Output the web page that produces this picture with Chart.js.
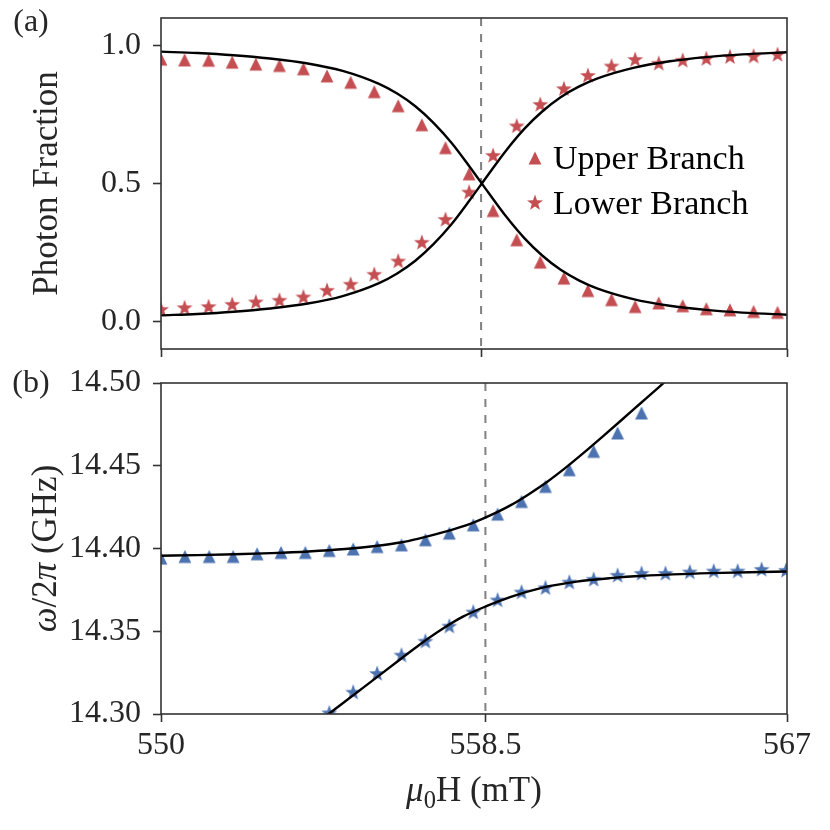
<!DOCTYPE html>
<html>
<head>
<meta charset="utf-8">
<script src="https://cdn.jsdelivr.net/npm/chart.js@4.4.1/dist/chart.umd.min.js"></script>
<style>
  html, body { margin: 0; padding: 0; background: #fff; }
  #wrap { position: relative; width: 830px; height: 830px; }
  #wrap canvas { position: absolute; left: 0; }
  #chart-fraction { top: 0; }
  #chart-frequency { top: 370px; }
</style>
</head>
<body>
<div id="wrap">
  <canvas id="chart-fraction" width="830" height="370"></canvas>
  <canvas id="chart-frequency" width="830" height="460"></canvas>
</div>
<script>
// measured field values (mT), shared by both panels
const fieldValues = [550.00, 550.65, 551.31, 551.96, 552.61, 553.26, 553.92, 554.57, 555.22,
  555.87, 556.53, 557.18, 557.83, 558.48, 559.14, 559.79, 560.44, 561.09, 561.75, 562.40,
  563.05, 563.70, 564.36, 565.01, 565.66, 566.31, 566.97];

// (a) photon fraction
const fractionUpper = [0.951, 0.948, 0.947, 0.940, 0.933, 0.928, 0.916, 0.890, 0.867, 0.833,
  0.782, 0.713, 0.630, 0.535, 0.402, 0.296, 0.215, 0.157, 0.112, 0.079, 0.054, 0.067, 0.057,
  0.046, 0.042, 0.036, 0.033];
const fractionLower = [0.042, 0.048, 0.052, 0.060, 0.069, 0.075, 0.087, 0.111, 0.133, 0.169,
  0.217, 0.285, 0.368, 0.467, 0.600, 0.707, 0.785, 0.842, 0.890, 0.924, 0.948, 0.934, 0.945,
  0.951, 0.958, 0.960, 0.966];
const fractionFitField = [550, 551, 552, 553, 554, 555, 556, 556.5, 557, 557.5, 558, 558.5,
  559, 559.5, 560, 560.5, 561, 561.5, 562, 563, 564, 565, 566, 567.3];
const fractionFitUpper = [0.978, 0.973, 0.965, 0.953, 0.936, 0.908, 0.861, 0.826, 0.780, 0.720,
  0.647, 0.560, 0.469, 0.380, 0.302, 0.238, 0.187, 0.149, 0.120, 0.081, 0.057, 0.042, 0.032, 0.024];
const fractionFitLower = [0.022, 0.027, 0.035, 0.047, 0.064, 0.092, 0.139, 0.174, 0.220, 0.280,
  0.353, 0.440, 0.531, 0.620, 0.698, 0.762, 0.813, 0.851, 0.880, 0.919, 0.943, 0.958, 0.968, 0.976];

// (b) frequency in GHz
const freqUpper = [14.3942, 14.3952, 14.3952, 14.3952, 14.3968, 14.3976, 14.3976, 14.3988,
  14.3997, 14.4012, 14.4022, 14.4053, 14.4093, 14.4143, 14.4208, 14.4284, 14.4375, 14.4476,
  14.4587, 14.4698, 14.4819, null, null, null, null, null, null];
const freqLower = [null, null, null, null, null, null, null, 14.3004, 14.3129, 14.3242, 14.3353,
  14.3437, 14.3528, 14.3613, 14.3686, 14.3734, 14.3760, 14.3794, 14.3811, 14.3835, 14.3847,
  14.3847, 14.3855, 14.3861, 14.3861, 14.3871, 14.3865];
const freqFitUpperField = [550, 551, 552, 553, 554, 555, 556, 556.5, 557, 557.5, 558, 558.5,
  559, 559.5, 560, 560.5, 561, 561.5, 562, 562.5, 563, 563.5, 564];
const freqFitUpper = [14.3956, 14.3960, 14.3965, 14.3972, 14.3982, 14.3997, 14.4020, 14.4036,
  14.4060, 14.4088, 14.4120, 14.4158, 14.4206, 14.4262, 14.4330, 14.4405, 14.4490, 14.4582,
  14.4678, 14.4775, 14.4873, 14.4971, 14.5070];
const freqFitLowerField = [554.00, 554.55, 555.59, 556.50, 557.04, 557.67, 558.20, 558.82,
  559.48, 560.39, 561.29, 562.20, 563.10, 564.91, 567.00];
const freqFitLower = [14.2907, 14.3000, 14.3176, 14.3331, 14.3422, 14.3518, 14.3588, 14.3650,
  14.3706, 14.3765, 14.3800, 14.3821, 14.3835, 14.3851, 14.3861];

// axes
const crossField = 558.81;
const fieldMin = 550;
const fractionFieldMax = 567.23;
const freqFieldMax = 567;
const fractionFieldTicks = [550, crossField, fractionFieldMax];
const freqFieldTicks = [550, crossField, 567];
const freqFieldTickLabels = ["550", "558.5", "567"];
const fractionTicks = [0, 0.5, 1.0];
const freqTicks = [14.30, 14.35, 14.40, 14.45, 14.50];

const FONT = "'Liberation Serif', 'DejaVu Serif', serif";
const RED = "#c44e52";
const BLUE = "#4c72b0";
const INK = "#262626";
const SPINE = "#333333";

const pairs = (xs, ys) =>
  xs.map((x, i) => ({ x: x, y: ys[i] })).filter((p) => p.y !== null);

const makeMarker = (color, kind) => {
  const c = document.createElement("canvas");
  c.width = 18;
  c.height = 18;
  const g = c.getContext("2d");
  g.fillStyle = color;
  g.beginPath();
  if (kind === "triangle") {
    g.moveTo(9, 2.6);
    g.lineTo(15.4, 15.4);
    g.lineTo(2.6, 15.4);
  } else {
    for (let k = 0; k < 10; k++) {
      const r = k % 2 ? 3.4 : 8.4;
      const a = -Math.PI / 2 + (k * Math.PI) / 5;
      g.lineTo(9 + r * Math.cos(a), 9 + r * Math.sin(a));
    }
  }
  g.closePath();
  g.fill();
  return c;
};
const triRed = makeMarker(RED, "triangle");
const starRed = makeMarker(RED, "star");
const triBlue = makeMarker(BLUE, "triangle");
const starBlue = makeMarker(BLUE, "star");

const drawRich = (ctx, parts, x, y, rotate, size) => {
  const fontOf = (s) =>
    s === "italic" ? `italic ${size}px ${FONT}` : s === "sub" ? `${size * 0.7}px ${FONT}` : `${size}px ${FONT}`;
  ctx.save();
  ctx.translate(x, y);
  if (rotate) ctx.rotate(-Math.PI / 2);
  ctx.fillStyle = INK;
  ctx.textAlign = "left";
  ctx.textBaseline = "alphabetic";
  let total = 0;
  parts.forEach(([t, s]) => {
    ctx.font = fontOf(s);
    total += ctx.measureText(t).width;
  });
  let cx = -total / 2;
  parts.forEach(([t, s]) => {
    ctx.font = fontOf(s);
    ctx.fillText(t, cx, s === "sub" ? size * 0.2 : 0);
    cx += ctx.measureText(t).width;
  });
  ctx.restore();
};

const crossLine = {
  id: "crossLine",
  beforeDatasetsDraw(chart) {
    const { ctx, chartArea, scales } = chart;
    const px = scales.x.getPixelForValue(crossField);
    ctx.save();
    ctx.strokeStyle = "#808080";
    ctx.lineWidth = 2;
    ctx.setLineDash([8, 8]);
    ctx.beginPath();
    ctx.moveTo(px, chartArea.top);
    ctx.lineTo(px, chartArea.bottom);
    ctx.stroke();
    ctx.restore();
  },
};

const frame = {
  id: "frame",
  afterDatasetsDraw(chart) {
    const { ctx, chartArea } = chart;
    ctx.save();
    ctx.strokeStyle = SPINE;
    ctx.lineWidth = 1.6;
    ctx.strokeRect(chartArea.left, chartArea.top, chartArea.right - chartArea.left, chartArea.bottom - chartArea.top);
    ctx.restore();
  },
};

const tickGrid = {
  drawOnChartArea: false,
  drawTicks: true,
  tickLength: 8,
  tickWidth: 1.6,
  tickColor: SPINE,
};

const fitLine = (data) => ({
  data: data,
  showLine: true,
  borderColor: "#000",
  borderWidth: 2.4,
  pointRadius: 0,
  cubicInterpolationMode: "monotone",
  clip: 0,
});
const markers = (label, data, style) => ({
  label: label,
  data: data,
  pointStyle: style,
  pointRadius: 8,
  clip: 0,
});

const fractionText = {
  id: "fractionText",
  afterDraw(chart) {
    const { ctx, chartArea } = chart;
    const midY = (chartArea.top + chartArea.bottom) / 2;
    drawRich(ctx, [["(a)", ""]], 31, 31, false, 32);
    drawRich(ctx, [["Photon Fraction", ""]], 57, midY, true, 35);
    // legend
    const rows = [
      [triRed, "Upper Branch", 158],
      [starRed, "Lower Branch", 203],
    ];
    rows.forEach(([img, text, y]) => {
      ctx.drawImage(img, 535 - 9, y - 9);
      ctx.save();
      ctx.font = `34px ${FONT}`;
      ctx.fillStyle = "#000";
      ctx.textBaseline = "alphabetic";
      ctx.fillText(text, 553, y + 10.5);
      ctx.restore();
    });
  },
};

const freqText = {
  id: "freqText",
  afterDraw(chart) {
    const { ctx, chartArea } = chart;
    const midY = (chartArea.top + chartArea.bottom) / 2;
    const midX = (chartArea.left + chartArea.right) / 2;
    drawRich(ctx, [["(b)", ""]], 31, 22, false, 32);
    drawRich(ctx, [["ω", "italic"], ["/2", ""], ["π", "italic"], [" (GHz)", ""]], 56, midY, true, 35);
    drawRich(ctx, [["μ", "italic"], ["0", "sub"], ["H (mT)", ""]], midX, 431, false, 35);
  },
};

const fractionChart = new Chart(document.querySelector("#chart-fraction"), {
  type: "scatter",
  data: {
    datasets: [
      fitLine(pairs(fractionFitField, fractionFitUpper)),
      fitLine(pairs(fractionFitField, fractionFitLower)),
      markers("Upper Branch", pairs(fieldValues, fractionUpper), triRed),
      markers("Lower Branch", pairs(fieldValues, fractionLower), starRed),
    ],
  },
  options: {
    responsive: false,
    animation: false,
    events: [],
    layout: { padding: { top: 18, right: 43, left: 0, bottom: 0 } },
    plugins: { legend: { display: false }, tooltip: { enabled: false } },
    scales: {
      x: {
        type: "linear",
        min: fieldMin,
        max: fractionFieldMax,
        afterBuildTicks: (s) => { s.ticks = fractionFieldTicks.map((v) => ({ value: v })); },
        afterFit: (s) => { s.height = 21; s.paddingLeft = 0; s.paddingRight = 0; },
        ticks: { display: false },
        grid: tickGrid,
        border: { display: false },
      },
      y: {
        min: -0.1,
        max: 1.1,
        afterBuildTicks: (s) => { s.ticks = fractionTicks.map((v) => ({ value: v })); },
        afterFit: (s) => { s.width = 161; s.paddingTop = 0; s.paddingBottom = 0; },
        ticks: {
          padding: 12,
          color: INK,
          font: { family: FONT, size: 32 },
          callback: (v) => Number(v).toFixed(1),
        },
        grid: tickGrid,
        border: { display: false },
      },
    },
  },
  plugins: [crossLine, frame, fractionText],
});

const freqChart = new Chart(document.querySelector("#chart-frequency"), {
  type: "scatter",
  data: {
    datasets: [
      fitLine(pairs(freqFitUpperField, freqFitUpper)),
      fitLine(pairs(freqFitLowerField, freqFitLower)),
      markers("Upper Branch", pairs(fieldValues, freqUpper), triBlue),
      markers("Lower Branch", pairs(fieldValues, freqLower), starBlue),
    ],
  },
  options: {
    responsive: false,
    animation: false,
    events: [],
    layout: { padding: { top: 13, right: 43, left: 0, bottom: 0 } },
    plugins: { legend: { display: false }, tooltip: { enabled: false } },
    scales: {
      x: {
        type: "linear",
        min: fieldMin,
        max: freqFieldMax,
        afterBuildTicks: (s) => { s.ticks = freqFieldTicks.map((v) => ({ value: v })); },
        afterFit: (s) => { s.height = 116; s.paddingLeft = 0; s.paddingRight = 0; },
        ticks: {
          padding: 4,
          color: INK,
          maxRotation: 0,
          font: { family: FONT, size: 32 },
          callback: (v, i) => freqFieldTickLabels[i],
        },
        grid: tickGrid,
        border: { display: false },
      },
      y: {
        min: 14.3,
        max: 14.5,
        afterBuildTicks: (s) => { s.ticks = freqTicks.map((v) => ({ value: v })); },
        afterFit: (s) => { s.width = 161; s.paddingTop = 0; s.paddingBottom = 0; },
        ticks: {
          padding: 12,
          color: INK,
          font: { family: FONT, size: 32 },
          callback: (v) => Number(v).toFixed(2),
        },
        grid: tickGrid,
        border: { display: false },
      },
    },
  },
  plugins: [crossLine, frame, freqText],
});
</script>
</body>
</html>
